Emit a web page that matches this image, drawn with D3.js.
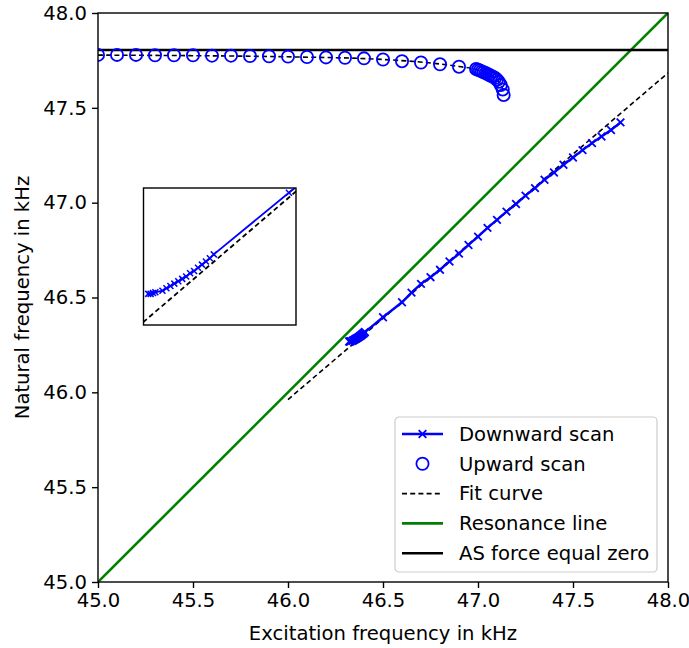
<!DOCTYPE html>
<html>
<head>
<meta charset="utf-8">
<script src="https://cdn.jsdelivr.net/npm/d3@7"></script>
<style>
  html, body { margin: 0; padding: 0; background: #fff; }
  svg { display: block; font-family: "DejaVu Sans", sans-serif; }
</style>
</head>
<body>
<svg id="chart" width="689" height="648"></svg>
<script>
// ---------------- data ----------------
const downX = [47.75, 47.70, 47.65, 47.60, 47.55, 47.50, 47.45, 47.40, 47.35, 47.30, 47.25, 47.20, 47.15, 47.10,
               47.05, 47.00, 46.95, 46.90, 46.85, 46.80, 46.75, 46.70, 46.65, 46.60, 46.50,
               46.405, 46.400, 46.395, 46.390, 46.385, 46.380, 46.375, 46.370, 46.365, 46.360, 46.355, 46.350,
               46.345, 46.340, 46.331, 46.328, 46.325, 46.322];
const downY = [47.423, 47.383, 47.349, 47.314, 47.277, 47.238, 47.200, 47.159, 47.121, 47.077, 47.037, 46.993, 46.953, 46.909,
               46.867, 46.821, 46.777, 46.731, 46.690, 46.646, 46.607, 46.572, 46.526, 46.475, 46.396,
               46.318, 46.313, 46.309, 46.305, 46.301, 46.297, 46.294, 46.290, 46.287, 46.284, 46.281, 46.278,
               46.275, 46.272, 46.270, 46.269, 46.268, 46.268];

const upX = [45.0, 45.1, 45.2, 45.3, 45.4, 45.5, 45.6, 45.7, 45.8, 45.9, 46.0, 46.1, 46.2, 46.3, 46.4, 46.5,
             46.6, 46.7, 46.8, 46.9,
             46.99, 47.00, 47.01, 47.02, 47.03, 47.04, 47.05, 47.06, 47.07, 47.08, 47.09, 47.10, 47.11, 47.12, 47.13, 47.135];
const upY = [47.779, 47.779, 47.779, 47.777, 47.777, 47.777, 47.775, 47.775, 47.773, 47.772, 47.770, 47.768, 47.766,
             47.764, 47.761, 47.755, 47.746, 47.739, 47.730, 47.717,
             47.705, 47.701, 47.697, 47.692, 47.688, 47.683, 47.678, 47.673, 47.668, 47.663, 47.657, 47.648,
             47.637, 47.620, 47.597, 47.568];

const fitLowX = [46.0, 46.5, 47.0, 47.5, 48.0];
const fitLowY = [45.962, 46.390, 46.824, 47.256, 47.684];
const fitUpX = [45.0, 45.5, 46.0, 46.5, 46.8, 46.9, 47.0, 47.05, 47.1, 47.12, 47.135];
const fitUpY = [47.778, 47.775, 47.769, 47.755, 47.731, 47.718, 47.700, 47.679, 47.648, 47.622, 47.585];

const resX = [45.0, 48.0];
const resY = [45.0, 48.0];
const asForceY = 47.805;

const xTicks = [45.0, 45.5, 46.0, 46.5, 47.0, 47.5, 48.0];
const yTicks = [45.0, 45.5, 46.0, 46.5, 47.0, 47.5, 48.0];

const insetXDomain = [46.316, 46.509];
const insetYDomain = [46.2286, 46.402];

const legendLabels = ["Downward scan", "Upward scan", "Fit curve", "Resonance line", "AS force equal zero"];

// ---------------- layout ----------------
const FONT = 19.6;
const plot = { left: 98, top: 13, width: 570, height: 569 };
const BLUE = "#0000ff", GREEN = "#008000", BLACK = "#000000";

const svg = d3.select("#chart");
const x = d3.scaleLinear().domain([45, 48]).range([0, plot.width]);
const y = d3.scaleLinear().domain([45, 48]).range([plot.height, 0]);

const defs = svg.append("defs");
defs.append("clipPath").attr("id", "clipMain")
  .append("rect").attr("width", plot.width).attr("height", plot.height);

const g = svg.append("g").attr("transform", `translate(${plot.left},${plot.top})`);
const gc = g.append("g").attr("clip-path", "url(#clipMain)");

const zip = (a, b) => a.map((v, i) => [v, b[i]]);
const line = (sx, sy) => d3.line().x(d => sx(d[0])).y(d => sy(d[1]));

// resonance line
gc.append("path").datum(zip(resX, resY)).attr("d", line(x, y))
  .attr("fill", "none").attr("stroke", GREEN).attr("stroke-width", 2.6);
// AS force zero
gc.append("path").datum([[45, asForceY], [48, asForceY]]).attr("d", line(x, y))
  .attr("fill", "none").attr("stroke", BLACK).attr("stroke-width", 2.6);

// fit curves
const dash = "5,3.2";
gc.append("path").datum(zip(fitLowX, fitLowY)).attr("d", line(x, y))
  .attr("fill", "none").attr("stroke", BLACK).attr("stroke-width", 1.6).attr("stroke-dasharray", dash);
gc.append("path").datum(zip(fitUpX, fitUpY)).attr("d", line(x, y).curve(d3.curveMonotoneX))
  .attr("fill", "none").attr("stroke", BLACK).attr("stroke-width", 1.6).attr("stroke-dasharray", dash);

// upward scan circles
gc.selectAll("circle.up").data(zip(upX, upY)).join("circle").attr("class", "up")
  .attr("cx", d => x(d[0])).attr("cy", d => y(d[1])).attr("r", 6.1)
  .attr("fill", "none").attr("stroke", BLUE).attr("stroke-width", 1.8);

// downward scan
const xMark = "M-3.8,-3.8L3.8,3.8M3.8,-3.8L-3.8,3.8";
gc.append("path").datum(zip(downX, downY)).attr("d", line(x, y))
  .attr("fill", "none").attr("stroke", BLUE).attr("stroke-width", 2.4);
gc.selectAll("path.dm").data(zip(downX, downY)).join("path").attr("class", "dm")
  .attr("transform", d => `translate(${x(d[0])},${y(d[1])})`)
  .attr("d", xMark).attr("stroke", BLUE).attr("stroke-width", 1.8).attr("fill", "none");

// axes
const xAxis = d3.axisBottom(x).tickValues(xTicks).tickFormat(d3.format(".1f")).tickSizeOuter(0).tickSize(6).tickPadding(5);
const yAxis = d3.axisLeft(y).tickValues(yTicks).tickFormat(d3.format(".1f")).tickSizeOuter(0).tickSize(6).tickPadding(5);
const gx = g.append("g").attr("transform", `translate(0,${plot.height})`).call(xAxis);
const gy = g.append("g").call(yAxis);
[gx, gy].forEach(a => {
  a.select(".domain").remove();
  a.selectAll(".tick line").attr("stroke", BLACK).attr("stroke-width", 1.4);
  a.selectAll(".tick text").attr("font-size", FONT).attr("fill", BLACK).attr("font-family", "DejaVu Sans");
});

// frame
g.append("rect").attr("width", plot.width).attr("height", plot.height)
  .attr("fill", "none").attr("stroke", BLACK).attr("stroke-width", 1.4);

// axis labels
svg.append("text").attr("x", plot.left + plot.width / 2).attr("y", 640)
  .attr("text-anchor", "middle").attr("font-size", FONT).text("Excitation frequency in kHz");
svg.append("text").attr("transform", `translate(29,${plot.top + plot.height / 2}) rotate(-90)`)
  .attr("text-anchor", "middle").attr("font-size", FONT).text("Natural frequency in kHz");

// ---------------- inset ----------------
const inset = { left: 143.5, top: 188, width: 152.5, height: 137 };
const ix = d3.scaleLinear().domain(insetXDomain).range([0, inset.width]);
const iy = d3.scaleLinear().domain(insetYDomain).range([inset.height, 0]);
defs.append("clipPath").attr("id", "clipInset")
  .append("rect").attr("width", inset.width).attr("height", inset.height);
const gi = svg.append("g").attr("transform", `translate(${inset.left},${inset.top})`);
gi.append("rect").attr("width", inset.width).attr("height", inset.height).attr("fill", "#fff");
const gic = gi.append("g").attr("clip-path", "url(#clipInset)");
gic.append("path").datum(zip(fitLowX, fitLowY)).attr("d", line(ix, iy))
  .attr("fill", "none").attr("stroke", BLACK).attr("stroke-width", 1.8).attr("stroke-dasharray", dash);
gic.append("path").datum(zip(downX, downY)).attr("d", line(ix, iy))
  .attr("fill", "none").attr("stroke", BLUE).attr("stroke-width", 1.8);
gic.selectAll("path.im").data(zip(downX, downY)).join("path").attr("class", "im")
  .attr("transform", d => `translate(${ix(d[0])},${iy(d[1])})`)
  .attr("d", "M-3,-3L3,3M3,-3L-3,3").attr("stroke", BLUE).attr("stroke-width", 1.5).attr("fill", "none");
gi.append("rect").attr("width", inset.width).attr("height", inset.height)
  .attr("fill", "none").attr("stroke", BLACK).attr("stroke-width", 1.4);

// ---------------- legend ----------------
const lg = svg.append("g").attr("transform", "translate(395,417)");
lg.append("rect").attr("width", 262).attr("height", 155).attr("rx", 4)
  .attr("fill", "#fff").attr("fill-opacity", 0.8).attr("stroke", "#cccccc").attr("stroke-width", 1.2);
const rowY = i => 17 + i * 29.8;
const hx0 = 7, hx1 = 48, hxm = 27.5;
legendLabels.forEach((lab, i) => {
  const ry = rowY(i);
  const row = lg.append("g").attr("transform", `translate(0,${ry})`);
  if (i === 0) {
    row.append("line").attr("x1", hx0).attr("x2", hx1).attr("stroke", BLUE).attr("stroke-width", 2.4);
    row.append("path").attr("transform", `translate(${hxm},0)`).attr("d", xMark)
      .attr("stroke", BLUE).attr("stroke-width", 1.8);
  } else if (i === 1) {
    row.append("circle").attr("cx", hxm).attr("r", 6.1).attr("fill", "none")
      .attr("stroke", BLUE).attr("stroke-width", 1.8);
  } else if (i === 2) {
    row.append("line").attr("x1", hx0).attr("x2", hx1).attr("stroke", BLACK)
      .attr("stroke-width", 1.6).attr("stroke-dasharray", dash);
  } else if (i === 3) {
    row.append("line").attr("x1", hx0).attr("x2", hx1).attr("stroke", GREEN).attr("stroke-width", 2.6);
  } else {
    row.append("line").attr("x1", hx0).attr("x2", hx1).attr("stroke", BLACK).attr("stroke-width", 2.6);
  }
  row.append("text").attr("x", 64).attr("y", 0).attr("dy", "0.35em")
    .attr("font-size", FONT).attr("fill", BLACK).text(lab);
});
</script>
</body>
</html>
